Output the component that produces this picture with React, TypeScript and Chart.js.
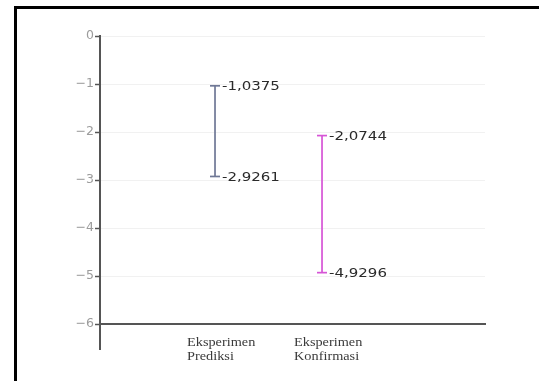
import React, { useEffect, useRef } from "react";
import { Chart, registerables } from "chart.js";

Chart.register(...registerables);

const categories: string[][] = [
  ["Eksperimen", "Prediksi"],
  ["Eksperimen", "Konfirmasi"],
];
const upperValues = [-1.0375, -2.0744];
const lowerValues = [-2.9261, -4.9296];
const yTickValues = [0, -1, -2, -3, -4, -5, -6];

const barColors = ["#6f7896", "#d655d6"];

const fmt = (v: number) => v.toFixed(4).replace(".", ",");

const labelPlugin = {
  id: "errLabels",
  afterDatasetsDraw(chart: any) {
    const ctx = chart.ctx as CanvasRenderingContext2D;
    const xs = chart.scales.x;
    const ys = chart.scales.y;
    ctx.save();
    // value labels
    ctx.font = "12px 'DejaVu Sans'";
    ctx.fillStyle = "#2a2a2a";
    ctx.textBaseline = "middle";
    ctx.textAlign = "left";
    categories.forEach((_, i) => {
      const px = xs.getPixelForValue(i + 1);
      [upperValues[i], lowerValues[i]].forEach((v) => {
        const py = ys.getPixelForValue(v);
        ctx.save();
        ctx.translate(px + 7, py + 1);
        ctx.scale(1.25, 1);
        ctx.fillText(fmt(v), 0, 0);
        ctx.restore();
      });
    });
    // category labels
    ctx.font = "13px 'Liberation Serif'";
    ctx.fillStyle = "#3a3a3a";
    ctx.textBaseline = "alphabetic";
    const base = ys.getPixelForValue(yTickValues[yTickValues.length - 1]);
    categories.forEach((lines, i) => {
      const px = xs.getPixelForValue(i + 1);
      lines.forEach((line, j) => {
        ctx.save();
        ctx.translate(px - 28, base + 22 + j * 13.5);
        ctx.scale(1.1, 1);
        ctx.fillText(line, 0, 0);
        ctx.restore();
      });
    });
    ctx.restore();
  },
};

export default function App() {
  const ref = useRef<HTMLCanvasElement | null>(null);
  useEffect(() => {
    if (!ref.current) return;
    const chart = new Chart(ref.current, {
      type: "line",
      data: {
        datasets: categories.map((_, i) => ({
          label: categories[i].join(" "),
          data: [
            { x: i + 1, y: upperValues[i] },
            { x: i + 1, y: lowerValues[i] },
          ],
          borderColor: barColors[i],
          backgroundColor: barColors[i],
          borderWidth: 1.7,
          pointStyle: "line",
          pointRadius: 5,
          pointBorderWidth: 1.7,
          pointBorderColor: barColors[i],
          showLine: true,
          fill: false,
        })),
      },
      options: {
        animation: false,
        responsive: false,
        layout: { padding: { left: 0, right: 54, top: 36, bottom: 32 } },
        plugins: { legend: { display: false }, tooltip: { enabled: false } },
        scales: {
          x: {
            type: "linear",
            min: -0.0748,
            max: 3.523,
            position: { y: -6 } as any,
            grid: { display: false },
            ticks: { display: false },
            border: { display: true, color: "#555", width: 2 },
          },
          y: {
            type: "linear",
            min: -6.52,
            max: 0,
            afterBuildTicks: (s: any) => {
              s.ticks = yTickValues.map((v) => ({ value: v }));
            },
            afterFit: (s: any) => {
              s.width = 100;
            },
            grid: {
              color: "#f1f1f1",
              lineWidth: 1,
              tickColor: "#555",
              tickLength: 5,
              tickWidth: 1.5,
            },
            border: { display: true, color: "#555", width: 2 },
            ticks: {
              padding: 1,
              color: "#9c9c9c",
              font: { family: "'DejaVu Sans'", size: 12.5 },
              callback: (v: any) => String(v).replace("-", "\u2212"),
            },
          },
        },
      },
      plugins: [labelPlugin],
    });
    return () => chart.destroy();
  }, []);
  return (
    <div
      style={{
        position: "fixed",
        left: 0,
        top: 0,
        width: 539,
        height: 381,
        overflow: "hidden",
        background: "#fff",
      }}
    >
      <div
        style={{
          position: "absolute",
          left: 14,
          top: 6,
          width: 600,
          height: 500,
          border: "3px solid #000",
          boxSizing: "border-box",
        }}
      />
      <canvas
        ref={ref}
        width={539}
        height={381}
        style={{ position: "absolute", left: 0, top: 0, display: "block" }}
      />
    </div>
  );
}
